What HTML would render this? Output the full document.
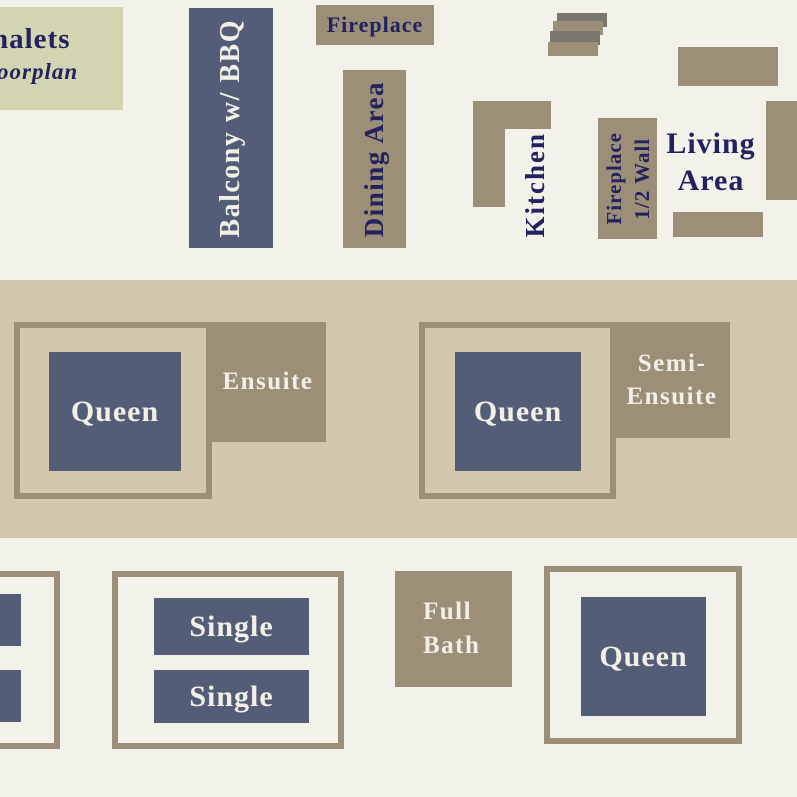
<!DOCTYPE html>
<html><head><style>
body{margin:0;width:797px;height:797px;background:#f2f1ea;position:relative;overflow:hidden;font-family:"Liberation Serif",serif;font-weight:bold;letter-spacing:1px}
div{position:absolute;box-sizing:border-box}
.t{background:#9b8f78}.b{background:#535d78}.d{background:#7a786e}
.w{color:#f2efe6;display:flex;align-items:center;justify-content:center;text-align:center}
.n{color:#23215e}
.o{border:6px solid #9b8f78}
.v{writing-mode:vertical-rl;transform:rotate(180deg)}
</style></head><body>
<div style="left:0;top:7px;width:123px;height:103px;background:#d2d4b2"></div>
<div class="n" style="top:23px;font-size:29px;left:-8px">halets</div>
<div class="n" style="left:-3px;top:59px;font-size:23px;font-style:italic">oorplan</div>
<div class="b w" style="left:189px;top:8px;width:84px;height:240px"><span class="v" style="font-size:28px;letter-spacing:1.5px">Balcony w/ BBQ</span></div>
<div class="t n" style="left:316px;top:5px;width:118px;height:40px;font-size:22px;display:flex;align-items:center;justify-content:center">Fireplace</div>
<div class="t n" style="left:343px;top:70px;width:63px;height:178px;display:flex;align-items:center;justify-content:center"><span class="v" style="font-size:27px;letter-spacing:1.5px">Dining Area</span></div>
<div class="d" style="left:557px;top:13px;width:50px;height:14px"></div>
<div class="t" style="left:553px;top:21px;width:50px;height:14px"></div>
<div class="d" style="left:550px;top:31px;width:50px;height:14px"></div>
<div class="t" style="left:548px;top:42px;width:50px;height:14px"></div>
<div class="t" style="left:678px;top:47px;width:100px;height:39px"></div>
<div class="t" style="left:473px;top:101px;width:32px;height:106px"></div>
<div class="t" style="left:473px;top:101px;width:78px;height:28px"></div>
<div class="n" style="left:518px;top:128px;width:34px;height:114px;display:flex;align-items:center;justify-content:center"><span class="v" style="font-size:27px;letter-spacing:2px">Kitchen</span></div>
<div class="t n" style="left:598px;top:118px;width:59px;height:121px;display:flex;align-items:center;justify-content:center"><span class="v" style="font-size:21px;line-height:28px;text-align:center;letter-spacing:1px">Fireplace<br>1/2 Wall</span></div>
<div class="n" style="left:655px;top:125px;width:112px;text-align:center;font-size:30px;line-height:37px">Living<br>Area</div>
<div class="t" style="left:766px;top:101px;width:31px;height:99px"></div>
<div class="t" style="left:673px;top:212px;width:90px;height:25px"></div>

<div style="left:0;top:280px;width:797px;height:258px;background:#d3c8ab"></div>
<div class="o" style="left:14px;top:322px;width:198px;height:177px"></div>
<div class="b w" style="left:49px;top:352px;width:132px;height:119px;font-size:30px">Queen</div>
<div class="t w" style="left:210px;top:322px;width:116px;height:120px;font-size:25px;letter-spacing:1.5px">Ensuite</div>
<div class="o" style="left:419px;top:322px;width:197px;height:177px"></div>
<div class="b w" style="left:455px;top:352px;width:126px;height:119px;font-size:30px">Queen</div>
<div class="t w" style="left:614px;top:322px;width:116px;height:116px;font-size:25px;line-height:33px;letter-spacing:1.5px">Semi-<br>Ensuite</div>

<div class="o" style="left:-20px;top:571px;width:80px;height:178px"></div>
<div class="b" style="left:0;top:594px;width:21px;height:52px"></div>
<div class="b" style="left:0;top:670px;width:21px;height:52px"></div>
<div class="o" style="left:112px;top:571px;width:232px;height:178px"></div>
<div class="b w" style="left:154px;top:598px;width:155px;height:57px;font-size:30px">Single</div>
<div class="b w" style="left:154px;top:670px;width:155px;height:53px;font-size:30px">Single</div>
<div class="t w" style="left:395px;top:571px;width:117px;height:116px;font-size:25px;line-height:34px;justify-content:flex-start;padding-left:28px;text-align:left;letter-spacing:1.5px">Full<br>Bath</div>
<div class="o" style="left:544px;top:566px;width:198px;height:178px"></div>
<div class="b w" style="left:581px;top:597px;width:125px;height:119px;font-size:30px">Queen</div>
</body></html>
